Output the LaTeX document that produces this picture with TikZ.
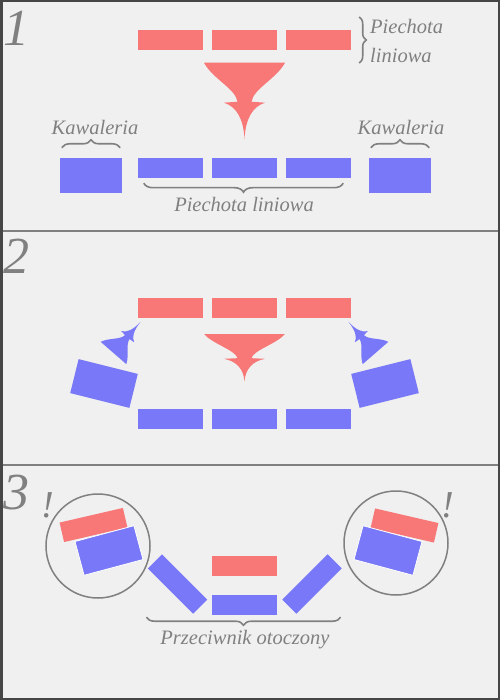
\documentclass[tikz,border=0pt]{standalone}
\usepackage{fontspec}
\setmainfont{Liberation Serif}
\usepackage{tikz}
\usetikzlibrary{decorations.pathreplacing}
\definecolor{wrog}{RGB}{248,120,120}
\definecolor{nasz}{RGB}{120,120,248}
\definecolor{tlo}{RGB}{240,240,240}
\definecolor{szary}{RGB}{128,128,128}
\definecolor{ramka}{RGB}{70,70,70}
\tikzset{oddzial/.style={inner sep=0pt,minimum width=65pt,minimum height=20pt},klamra/.style={decorate,decoration={brace,amplitude=8pt},line width=1.6pt,draw=szary},opis/.style={font=\fontsize{20.5}{20.5}\selectfont\itshape,text=szary,inner sep=0pt},pics/lejek/.style={code={\fill[#1] (-40.5,0) .. controls (-32,16) and (-9,26) .. (-7,39) -- (-20.5,40) .. controls (-8,44) and (-1,56) .. (0,76.5) .. controls (1,56) and (8,44) .. (20.5,40) -- (7,39) .. controls (9,26) and (32,16) .. (40.5,0) -- cycle;}}}

\begin{document}
\begin{tikzpicture}[x=1pt,y=-1pt,nr/.style={font=\fontsize{52}{52}\selectfont\itshape,text=szary,inner sep=0pt},kaw/.style={oddzial,fill=nasz,minimum width=62pt,minimum height=35pt},krag/.style={draw=szary,line width=1.5pt,circle,minimum size=104pt,inner sep=0pt}]
\useasboundingbox (0,0) rectangle (500,700);
\fill[tlo] (0,0) rectangle (500,700);
\draw[szary,line width=2pt] (0,231)--(500,231) (0,465)--(500,465);
\draw[ramka,line width=2.5pt] (1.25,1.25) rectangle (498.75,698.75);
% 1
\node[nr] (n1) at (16,28) {1};
\foreach \i/\x in {1/170.5,2/244.5,3/318.5}{
  \node[oddzial,fill=wrog] (a\i) at (\x,40) {};
  \node[oddzial,fill=nasz] (b\i) at (\x,168) {};}
\node[kaw] (k1) at (91,175.5) {};
\node[kaw] (k2) at (400,175.5) {};
\draw[klamra,decoration={amplitude=7pt}] ([shift={(8pt,23pt)}]a3.east) -- ([shift={(8pt,-23pt)}]a3.east);
\node[opis,anchor=base west] (t1) at (370,34) {Piechota};
\node[opis,anchor=base west] (t2) at (370,63) {liniowa};
\pic at (244.5,62.7) {lejek=wrog};
\draw[klamra] ([shift={(2pt,10pt)}]k1.north west) -- ([shift={(-2pt,10pt)}]k1.north east);
\draw[klamra] ([shift={(2pt,10pt)}]k2.north west) -- ([shift={(-2pt,10pt)}]k2.north east);
\node[opis,anchor=base] (t3) at (95,135) {Kawaleria};
\node[opis,anchor=base] (t4) at (401,135) {Kawaleria};
\draw[klamra,decoration={amplitude=9pt}] ([shift={(-8pt,-5pt)}]b3.south east) -- ([shift={(6pt,-5pt)}]b1.south west);
\node[opis,anchor=base] (t5) at (244,212) {Piechota liniowa};
% 2
\node[nr] (n2) at (16,256) {2};
\foreach \i/\x in {1/170.5,2/244.5,3/318.5}{
  \node[oddzial,fill=wrog] (e\i) at (\x,308) {};
  \node[oddzial,fill=nasz] (f\i) at (\x,419) {};}
\node[kaw,minimum width=61pt,rotate=-14] (g1) at (104,383.5) {};
\node[kaw,minimum width=61pt,rotate=14] (g2) at (385,383.5) {};
\pic[yscale=.62] at (244.5,334) {lejek=wrog};
\pic[rotate=139,xscale=.42,yscale=.54] at (113.5,353) {lejek=nasz};
\pic[rotate=-139,xscale=.42,yscale=.54] at (375.5,353) {lejek=nasz};
% 3
\node[nr] (n3) at (16,493) {3};
\node[krag] (o1) at (98,546) {};
\node[krag] (o2) at (396,543) {};
\node[oddzial,fill=wrog,rotate=13] (c1) at (93.5,525) {};
\node[kaw,minimum width=61pt,rotate=15,draw=white,line width=.8pt] (d1) at (109,550.5) {};
\node[oddzial,fill=wrog,rotate=-13] (c3) at (404.5,525.5) {};
\node[kaw,minimum width=61pt,rotate=-15,draw=white,line width=.8pt] (d3) at (388,550.5) {};
\node[oddzial,fill=nasz,minimum width=64pt,rotate=-45] (s1) at (177.5,584) {};
\node[oddzial,fill=nasz,minimum width=64pt,rotate=45] (s2) at (312,584) {};
\node[oddzial,fill=wrog] (c2) at (244.5,566) {};
\node[oddzial,fill=nasz] (d2) at (244.5,605) {};
\node[opis,font=\fontsize{38}{38}\selectfont\itshape,anchor=base] (w1) at (48,517) {!};
\node[opis,font=\fontsize{38}{38}\selectfont\itshape,anchor=base] (w2) at (448,517) {!};
\draw[klamra] ([shift={(96pt,-2pt)}]d2.south) -- ([shift={(-98pt,-2pt)}]d2.south);
\node[opis,anchor=base] (t6) at (245,644) {Przeciwnik otoczony};
\end{tikzpicture}
\end{document}
